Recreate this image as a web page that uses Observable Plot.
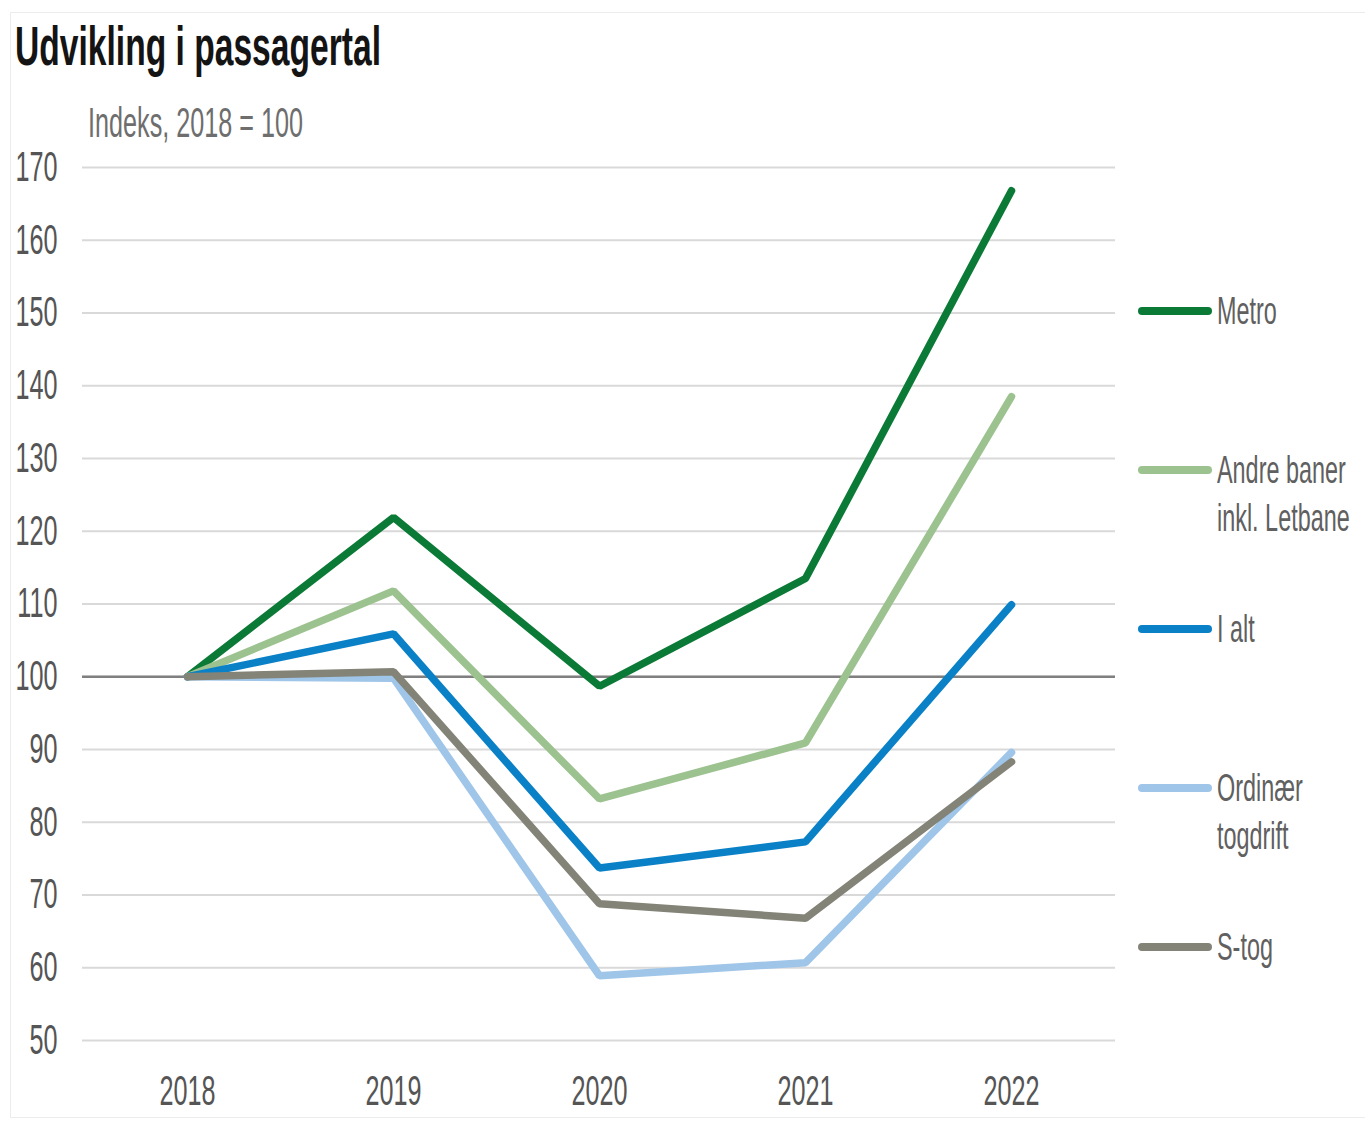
<!DOCTYPE html>
<html><head><meta charset="utf-8">
<script src="https://cdn.jsdelivr.net/npm/d3@7"></script>
<script src="https://cdn.jsdelivr.net/npm/@observablehq/plot@0.6"></script>
<style>
body{margin:0;background:#fff;width:1365px;height:1122px;overflow:hidden;position:relative;font-family:"Liberation Sans",Arial,sans-serif;}
#frame{position:absolute;left:10px;top:12px;width:1360px;height:1106px;border:1px solid #ececec;box-sizing:border-box;}
.narrow{display:inline-block;transform:scaleX(0.6);transform-origin:0 0;white-space:nowrap;}
#title{position:absolute;left:15px;top:18px;font-size:56px;line-height:1;font-weight:bold;color:#141414;}
#subtitle{position:absolute;left:88px;top:102px;font-size:42px;line-height:1;color:#6e6e6e;}
#chart{position:absolute;left:0;top:140px;}
#legend{position:absolute;left:1138px;top:0;}
.item{position:absolute;left:0;width:230px;}
.swatch{position:absolute;left:0;width:74px;height:8px;border-radius:4px;}
.lab{position:absolute;left:79px;font-size:39px;line-height:48px;color:#606060;}
</style></head>
<body>
<div id="frame"></div>
<div id="title"><span class="narrow">Udvikling i passagertal</span></div>
<div id="subtitle"><span class="narrow">Indeks, 2018 = 100</span></div>
<div id="chart"></div>
<div id="legend"></div>
<script>
const years = ["2018", "2019", "2020", "2021", "2022"];
const seriesNames = ["Metro", "Andre baner inkl. Letbane", "I alt", "Ordinær togdrift", "S-tog"];
const legendLines = [["Metro"], ["Andre baner", "inkl. Letbane"], ["I alt"], ["Ordinær", "togdrift"], ["S-tog"]];
const metro    = [100, 121.9, 98.7, 113.5, 166.8];
const andre    = [100, 111.8, 83.2, 90.9, 138.5];
const iAlt     = [100, 105.9, 73.7, 77.3, 109.9];
const ordinaer = [100, 99.8, 58.9, 60.7, 89.6];
const sTog     = [100, 100.7, 68.8, 66.8, 88.3];
const yTicks = [50, 60, 70, 80, 90, 100, 110, 120, 130, 140, 150, 160, 170];
const colors = ["#0b7a36", "#9cc28f", "#0a80c6", "#9fc5e8", "#838377"];

const valuesBySeries = [metro, andre, iAlt, ordinaer, sTog];
const data = [];
seriesNames.forEach((s, i) => years.forEach((y, j) => data.push({series: s, year: y, value: valuesBySeries[i][j]})));

const chart = Plot.plot({
  width: 1120,
  height: 982,
  marginTop: 27,
  marginBottom: 82,
  marginLeft: 82,
  marginRight: 5,
  style: {fontFamily: '"Liberation Sans",Arial,sans-serif', color: "#555555", background: "transparent"},
  x: {type: "point", domain: years, padding: 0.5, label: null},
  y: {domain: [50, 170], label: null},
  color: {domain: seriesNames, range: colors},
  marks: [
    Plot.gridY(yTicks, {stroke: "#d9d9d9", strokeOpacity: 1, strokeWidth: 2}),
    Plot.ruleY([100], {stroke: "#7f7f7f", strokeWidth: 2.5}),
    Plot.line(data, {x: "year", y: "value", z: "series", stroke: "series", strokeWidth: 7.5, strokeLinecap: "round", strokeLinejoin: "miter"}),
    Plot.axisY(yTicks, {tickSize: 0, tickPadding: 25, fontSize: 42, label: null}),
    Plot.axisX(years, {tickSize: 0, tickPadding: 35, fontSize: 42, label: null})
  ]
});
// condensed look: squeeze each text horizontally around its own anchor
chart.querySelectorAll("text").forEach(t => {
  const x = t.getAttribute("x") || 0, y = t.getAttribute("y") || 0;
  const tr = t.getAttribute("transform") || "";
  t.setAttribute("transform", `${tr} translate(${x},0) scale(0.6,1) translate(${-x},0)`);
});
document.getElementById("chart").appendChild(chart);

const legend = document.getElementById("legend");
const legendTop = 311, legendStep = 159;
seriesNames.forEach((s, i) => {
  const item = document.createElement("div");
  item.className = "item";
  item.style.top = (legendTop + i * legendStep) + "px";
  const sw = document.createElement("div");
  sw.className = "swatch";
  sw.style.background = colors[i];
  sw.style.top = "-4px";
  item.appendChild(sw);
  const lab = document.createElement("div");
  lab.className = "lab";
  lab.style.top = "-24px";
  lab.innerHTML = legendLines[i].map(l => `<span class="narrow">${l}</span>`).join("<br>");
  item.appendChild(lab);
  legend.appendChild(item);
});
</script>
</body></html>
